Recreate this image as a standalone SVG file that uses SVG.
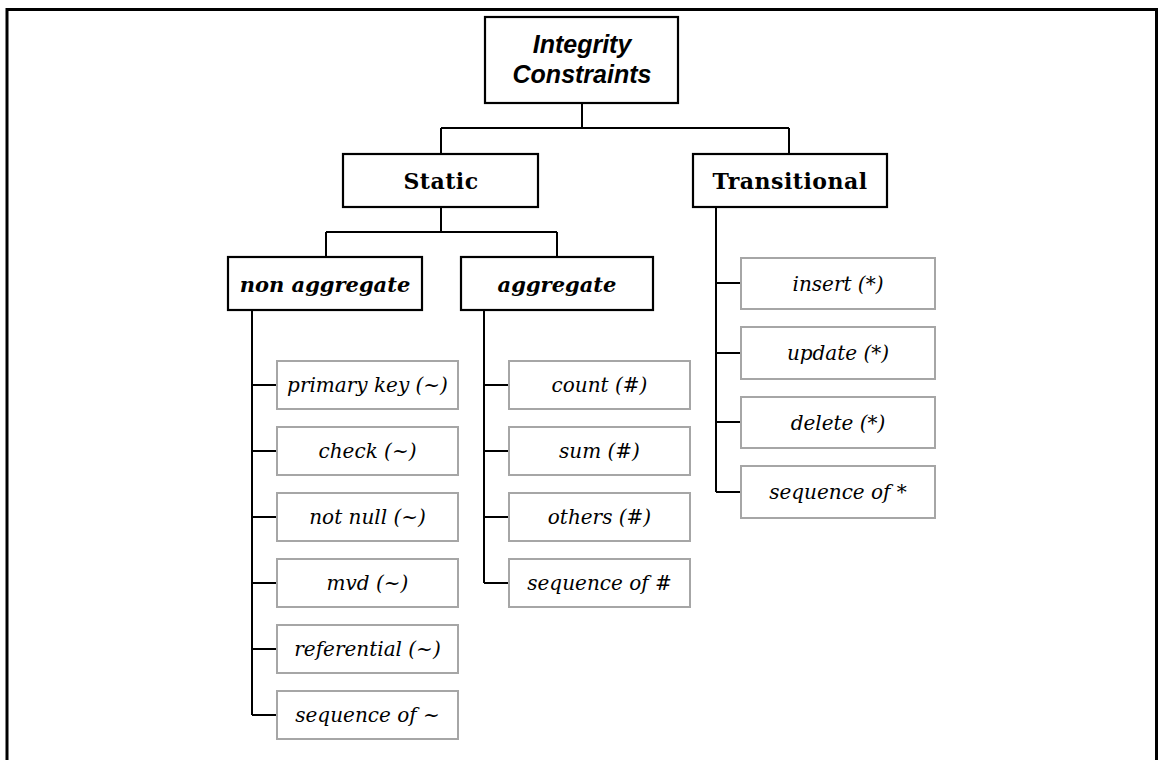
<svg xmlns="http://www.w3.org/2000/svg" width="1158" height="760" viewBox="0 0 1158 760">
<style>
.frame{fill:none;stroke:#000;stroke-width:3}
.main{fill:#fff;stroke:#000;stroke-width:2.2}
.leaf{fill:#fff;stroke:#a6a6a6;stroke-width:2}
.conn{fill:none;stroke:#000;stroke-width:2}
.t0{font-family:"Liberation Sans",Arial,sans-serif;font-weight:bold;font-style:italic;font-size:25px;text-anchor:middle}
.t1{font-family:"DejaVu Serif",serif;font-weight:bold;font-size:22px;text-anchor:middle;letter-spacing:0.5px}
.t2{font-family:"DejaVu Serif",serif;font-weight:bold;font-style:italic;font-size:21px;text-anchor:middle}
.t3{font-family:"DejaVu Serif",serif;font-style:italic;font-size:20px;text-anchor:middle}
</style>
<rect x="0" y="0" width="1158" height="760" fill="#fff"/>
<path class="frame" d="M7,770 V9.5 H1156.5 V770"/>
<g id="connectors">
<path class="conn" d="M582,103 V128 M441,128 H789 M441,128 V154 M789,128 V154"/>
<path class="conn" d="M441,207 V232 M326,232 H557 M326,232 V257 M557,232 V257"/>
<path class="conn" d="M252,310 V715"/>
<path class="conn" d="M252,385 H277 M252,451 H277 M252,517 H277 M252,583 H277 M252,649 H277 M252,715 H277"/>
<path class="conn" d="M484,310 V583"/>
<path class="conn" d="M484,385 H509 M484,451 H509 M484,517 H509 M484,583 H509"/>
<path class="conn" d="M716,207 V492"/>
<path class="conn" d="M716,283 H741 M716,353 H741 M716,422 H741 M716,492 H741"/>
</g>
<g id="n-integrity"><rect class="main" x="485" y="17" width="193" height="86"/><text class="t0" x="582" y="53">Integrity</text><text class="t0" x="582" y="83">Constraints</text></g>
<g id="n-static"><rect class="main" x="343" y="154" width="195" height="53"/><text class="t1" x="441" y="189">Static</text></g>
<g id="n-transitional"><rect class="main" x="693" y="154" width="194" height="53"/><text class="t1" x="790" y="189">Transitional</text></g>
<g id="n-nonaggregate"><rect class="main" x="228" y="257" width="194" height="53"/><text class="t2" x="325" y="292">non aggregate</text></g>
<g id="n-aggregate"><rect class="main" x="461" y="257" width="192" height="53"/><text class="t2" x="557" y="292">aggregate</text></g>
<g id="n-primarykey"><rect class="leaf" x="277" y="361" width="181" height="48"/><text class="t3" x="367.5" y="392">primary key (~)</text></g>
<g id="n-check"><rect class="leaf" x="277" y="427" width="181" height="48"/><text class="t3" x="367.5" y="458">check (~)</text></g>
<g id="n-notnull"><rect class="leaf" x="277" y="493" width="181" height="48"/><text class="t3" x="367.5" y="524">not null (~)</text></g>
<g id="n-mvd"><rect class="leaf" x="277" y="559" width="181" height="48"/><text class="t3" x="367.5" y="590">mvd (~)</text></g>
<g id="n-referential"><rect class="leaf" x="277" y="625" width="181" height="48"/><text class="t3" x="367.5" y="656">referential (~)</text></g>
<g id="n-seqtilde"><rect class="leaf" x="277" y="691" width="181" height="48"/><text class="t3" x="367.5" y="722">sequence of ~</text></g>
<g id="n-count"><rect class="leaf" x="509" y="361" width="181" height="48"/><text class="t3" x="599.5" y="392">count (#)</text></g>
<g id="n-sum"><rect class="leaf" x="509" y="427" width="181" height="48"/><text class="t3" x="599.5" y="458">sum (#)</text></g>
<g id="n-others"><rect class="leaf" x="509" y="493" width="181" height="48"/><text class="t3" x="599.5" y="524">others (#)</text></g>
<g id="n-seqhash"><rect class="leaf" x="509" y="559" width="181" height="48"/><text class="t3" x="599.5" y="590">sequence of #</text></g>
<g id="n-insert"><rect class="leaf" x="741" y="258" width="194" height="51"/><text class="t3" x="838" y="291">insert (*)</text></g>
<g id="n-update"><rect class="leaf" x="741" y="327" width="194" height="52"/><text class="t3" x="838" y="360">update (*)</text></g>
<g id="n-delete"><rect class="leaf" x="741" y="397" width="194" height="51"/><text class="t3" x="838" y="430">delete (*)</text></g>
<g id="n-seqstar"><rect class="leaf" x="741" y="466" width="194" height="52"/><text class="t3" x="838" y="499">sequence of *</text></g>
</svg>
